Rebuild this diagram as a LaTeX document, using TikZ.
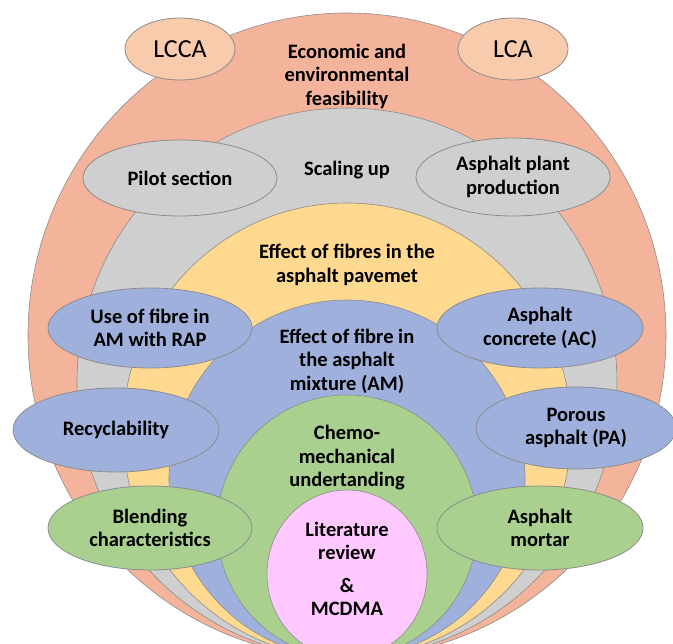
\documentclass[tikz,border=0pt]{standalone}
\usepackage{fontspec}
\setmainfont{Carlito}
\usetikzlibrary{shapes.geometric}

\definecolor{salmon}{HTML}{F4B49B}
\definecolor{peach}{HTML}{F8CBAD}
\definecolor{silver}{HTML}{CFCFCF}
\definecolor{sand}{HTML}{FFD98F}
\definecolor{steel}{HTML}{9FB0DC}
\definecolor{sage}{HTML}{A9D08E}
\definecolor{orchid}{HTML}{FFC8FF}
\definecolor{rim}{HTML}{8C8C8C}

\begin{document}
\begin{tikzpicture}[x=1pt,y=-1pt,
layer/.style={draw=rim, line width=0.6pt},
bubble/.style={ellipse, draw=rim, line width=0.8pt, inner sep=0pt, align=center,
  font=\bfseries\fontsize{20.5}{23.5}\selectfont},
info/.style={draw=none, fill=none, inner sep=0pt, align=center,
  font=\bfseries\fontsize{20.5}{23.5}\selectfont}]

%% local variables
\def \cx {347}

\useasboundingbox (0,0) rectangle (673,644);

%% nested layers, outer to inner
\foreach \cy/\rx/\ry/\col in {335.5/319/322.5/salmon, 383/270/275/silver,
    430.5/224/227.5/sand, 479/178/179/steel, 526.5/130/131.5/sage, 574/80/84/orchid}
      \draw[layer, fill=\col] (\cx,\cy) ellipse [x radius=\rx, y radius=\ry];

%% layer titles
\node[info] (econ) at (\cx,76) {Economic and\\environmental\\feasibility};
\node[info] (scaling) at (\cx,170) {Scaling up};
\node[info] (pave) at (\cx,265) {Effect of fibres in the\\asphalt pavemet};
\node[info] (mix) at (\cx,361) {Effect of fibre in\\the asphalt\\mixture (AM)};
\node[info] (chemo) at (\cx,458) {Chemo-\\mechanical\\undertanding};
\node[info] (lit) at (\cx,569) {Literature\\review\\[9pt]\&\\MCDMA};

%% side ellipses
\node[bubble, fill=peach, minimum width=110pt, minimum height=62pt,
  font=\fontsize{26}{28}\selectfont] (LCCA) at (180,49) {LCCA};
\node[bubble, fill=peach, minimum width=110pt, minimum height=62pt,
  font=\fontsize{26}{28}\selectfont] (LCA) at (513,49) {LCA};

\node[bubble, fill=silver, minimum width=194pt, minimum height=76pt] (pilot) at (180,178) {Pilot section};
\node[bubble, fill=silver, minimum width=194pt, minimum height=78pt] (plant) at (513,177) {Asphalt plant\\production};

\node[bubble, fill=steel, minimum width=204pt, minimum height=80pt] (RAP) at (150,328) {Use of fibre in\\AM with RAP};
\node[bubble, fill=steel, minimum width=206pt, minimum height=80pt] (AC) at (540,328) {Asphalt\\concrete (AC)};
\node[bubble, fill=steel, minimum width=206pt, minimum height=84pt] (recycle) at (116,430) {Recyclability};
\node[bubble, fill=steel, minimum width=200pt, minimum height=82pt] (PA) at (576,428) {Porous\\asphalt (PA)};

\node[bubble, fill=sage, minimum width=204pt, minimum height=84pt] (blend) at (150,528) {Blending\\characteristics};
\node[bubble, fill=sage, minimum width=206pt, minimum height=84pt] (mortar) at (540,528) {Asphalt\\mortar};

\end{tikzpicture}
\end{document}
